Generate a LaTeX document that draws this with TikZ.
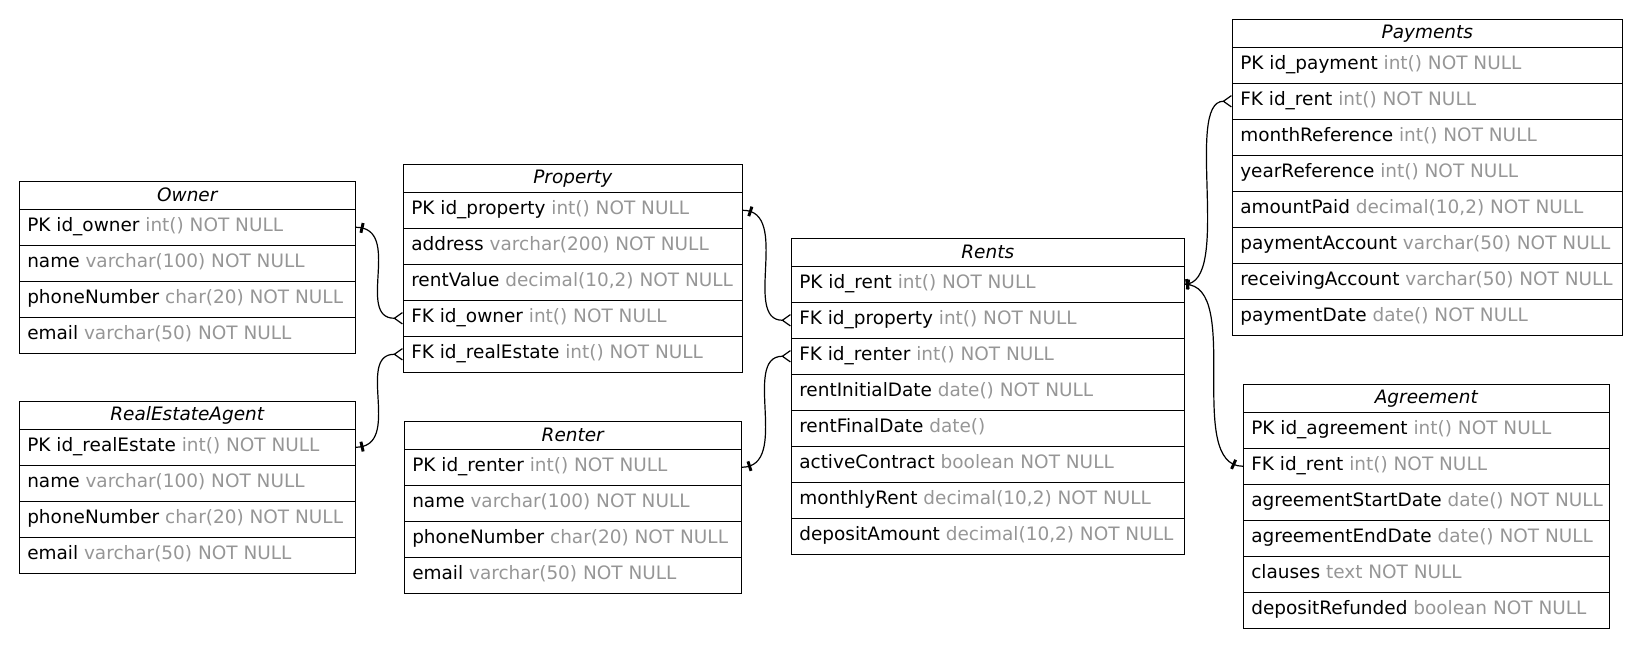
\documentclass[tikz,border=0pt]{standalone}
\usepackage{fontspec}
\setmainfont{DejaVu Sans}
\usepackage{tikz}
\usetikzlibrary{arrows.meta}
\definecolor{typegray}{RGB}{150,150,150}

\begin{document}
\begin{tikzpicture}[x=0.75pt,y=-0.75pt,
	every node/.style={font=\fontsize{13.85}{17}\selectfont},
	head/.style={draw,anchor=north west,minimum height=21pt,inner sep=0pt,font=\fontsize{13.85}{17}\selectfont\itshape},
	field/.style={draw,anchor=north west,minimum height=27pt,inner xsep=6pt,inner ysep=0pt,text height=10.5pt,text depth=3.5pt},
	link/.style={line width=0.9pt},
	crow/.style={-{Straight Barb[reversed,length=6pt,width=8.5pt,line width=0.9pt]}},
	tee/.style={sloped,fill,inner sep=0pt,minimum width=2.2pt,minimum height=7.5pt}]
\useasboundingbox (0,0) rectangle (1641,646);

% table: name, left, top, width, title, fields
\def\erdtable#1#2#3#4#5#6{%
	\pgfmathsetmacro{\mw}{#4*0.75}
	\pgfmathsetmacro{\tw}{(#4-16)*0.75}
	\node[head,minimum width=\mw pt] (#1) at (#2,#3) {#5};
	\foreach \f/\t [count=\i] in {#6}{
		\pgfmathsetmacro{\ypos}{#3+28+36*(\i-1)}
		\node[field,minimum width=\mw pt] (#1-\i) at (#2,\ypos) {\makebox[\tw pt][l]{\f\ \textcolor{typegray}{\t}}};}
}

%tables
\erdtable{owner}{19}{181}{336}{Owner}{PK id\_owner/int() NOT NULL, name/varchar(100) NOT NULL,
	phoneNumber/char(20) NOT NULL, email/varchar(50) NOT NULL}
\erdtable{agent}{19}{401}{336}{RealEstateAgent}{PK id\_realEstate/int() NOT NULL, name/varchar(100) NOT NULL,
	phoneNumber/char(20) NOT NULL, email/varchar(50) NOT NULL}
\erdtable{property}{403}{164}{339}{Property}{PK id\_property/int() NOT NULL, address/varchar(200) NOT NULL,
	rentValue/{decimal(10,2) NOT NULL}, FK id\_owner/int() NOT NULL, FK id\_realEstate/int() NOT NULL}
\erdtable{renter}{404}{421}{337}{Renter}{PK id\_renter/int() NOT NULL, name/varchar(100) NOT NULL,
	phoneNumber/char(20) NOT NULL, email/varchar(50) NOT NULL}
\erdtable{rents}{791}{238}{393}{Rents}{PK id\_rent/int() NOT NULL, FK id\_property/int() NOT NULL,
	FK id\_renter/int() NOT NULL, rentInitialDate/date() NOT NULL, rentFinalDate/date(),
	activeContract/boolean NOT NULL, monthlyRent/{decimal(10,2) NOT NULL}, depositAmount/{decimal(10,2) NOT NULL}}
\erdtable{payments}{1232}{19}{390}{Payments}{PK id\_payment/int() NOT NULL, FK id\_rent/int() NOT NULL,
	monthReference/int() NOT NULL, yearReference/int() NOT NULL, amountPaid/{decimal(10,2) NOT NULL},
	paymentAccount/varchar(50) NOT NULL, receivingAccount/varchar(50) NOT NULL, paymentDate/date() NOT NULL}
\erdtable{agreement}{1243}{384}{366}{Agreement}{PK id\_agreement/int() NOT NULL, FK id\_rent/int() NOT NULL,
	agreementStartDate/date() NOT NULL, agreementEndDate/date() NOT NULL, clauses/text NOT NULL,
	depositRefunded/boolean NOT NULL}

%relations
\draw[link,crow] (owner-1.east) .. controls +(48,0) and +(-48,0) .. (property-4.west) node[tee,pos=.05]{};
\draw[link,crow] (agent-1.east) .. controls +(48,0) and +(-48,0) .. (property-5.west) node[tee,pos=.05]{};
\draw[link,crow] (property-1.east) .. controls +(49,0) and +(-49,0) .. (rents-2.west) node[tee,pos=.06]{};
\draw[link,crow] (renter-1.east) .. controls +(50,0) and +(-50,0) .. (rents-3.west) node[tee,pos=.06]{};
\draw[link,crow] (rents-1.east) .. controls +(48,0) and +(-48,0) .. (payments-2.west) node[tee,pos=.02]{};
\draw[link] (rents-1.east) .. controls +(59,0) and +(-59,0) .. (agreement-2.west) node[tee,pos=.02]{} node[tee,pos=.94]{};
\end{tikzpicture}
\end{document}
